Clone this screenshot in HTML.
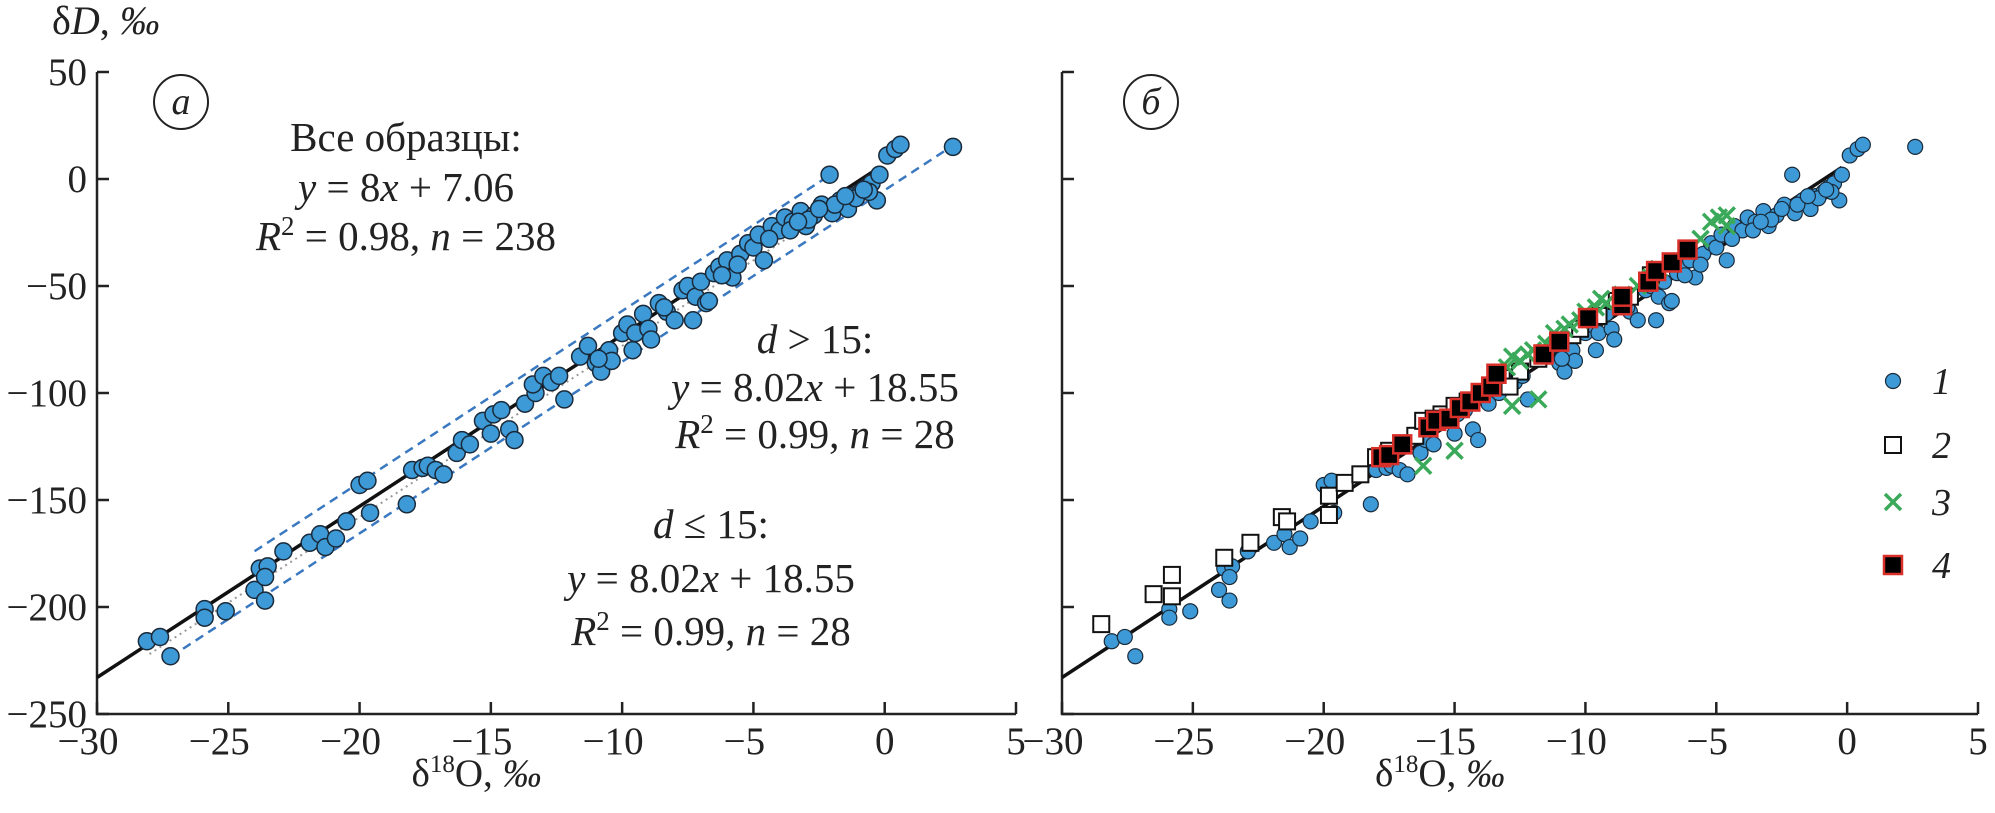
<!DOCTYPE html>
<html><head><meta charset="utf-8">
<style>
html,body{margin:0;padding:0;background:#fff;}
svg{display:block;font-family:"Liberation Serif","DejaVu Serif",serif;}
</style></head>
<body>
<svg id="chart" width="1995" height="813" viewBox="0 0 1995 813" xmlns="http://www.w3.org/2000/svg"></svg>
<script>
const xTicks=[-30,-25,-20,-15,-10,-5,0,5];
const yTicks=[50,0,-50,-100,-150,-200,-250];
const allX=[-28.1,-27.6,-27.2,-25.9,-25.9,-25.1,-24.0,-23.8,-23.5,-23.6,-23.6,-22.9,-21.9,-21.5,-21.3,-20.9,-20.5,-20.0,-19.7,-19.6,-18.2,-18.0,-17.6,-17.4,-17.1,-16.8,-16.3,-16.1,-15.8,-15.3,-14.9,-14.6,-14.3,-14.1,-13.7,-13.3,-13.4,-13.0,-12.7,-12.2,-11.6,-11.3,-11.0,-10.8,-10.5,-10.4,-10.0,-9.8,-9.5,-9.2,-9.0,-8.9,-8.6,-8.3,-8.0,-7.7,-7.5,-7.2,-7.0,-6.8,-6.5,-6.3,-6.0,-5.8,-5.5,-5.2,-5.0,-4.8,-4.6,-4.3,-4.0,-3.8,-3.5,-3.2,-3.0,-2.7,-2.4,-2.1,-2.0,-1.7,-1.4,-1.2,-0.9,-0.7,-0.5,-0.3,-0.2,0.1,0.4,0.6,2.6,-7.3,-6.7,-9.6,-8.4,-6.2,-5.6,-3.6,-2.9,-1.9,-1.1,-0.6,-4.4,-3.3,-2.5,-1.5,-0.8,-12.4,-10.9,-15.0];
const allY=[-216,-214,-223,-201,-205,-202,-192,-182,-181,-197,-186,-174,-170,-166,-172,-168,-160,-143,-141,-156,-152,-136,-135,-134,-136,-138,-128,-122,-124,-113,-110,-108,-117,-122,-105,-100,-96,-92,-95,-103,-83,-78,-86,-90,-80,-85,-72,-68,-72,-63,-70,-75,-58,-62,-66,-52,-50,-55,-48,-58,-44,-41,-38,-46,-35,-30,-32,-26,-38,-22,-24,-18,-20,-15,-22,-17,-12,2,-16,-10,-14,-8,-6,-4,-2,-10,2,11,14,16,15,-66,-57,-80,-60,-45,-40,-24,-19,-12,-9,-6,-28,-20,-14,-8,-5,-92,-84,-119];
const s2X=[-28.5,-26.5,-25.8,-25.8,-23.8,-22.8,-21.6,-21.4,-19.8,-19.8,-19.2,-18.6,-18.0,-17.5,-16.5,-16.2,-15.5,-15.0,-14.5,-13.2,-12.5,-11.8,-10.5,-10.2,-9.5,-8.8,-8.3,-7.5,-15.8,-12.9];
const s2Y=[-208,-194,-195,-185,-177,-170,-158,-160,-148,-157,-142,-138,-130,-127,-120,-113,-110,-106,-104,-93,-90,-84,-73,-70,-64,-57,-55,-45,-112,-97];
const s3X=[-16.2,-15.0,-12.8,-11.8,-13.0,-12.5,-12.8,-12.0,-11.5,-11.2,-10.8,-10.2,-10.0,-9.6,-9.4,-9.2,-8.6,-8.0,-7.5,-7.2,-5.2,-4.9,-4.6,-4.6,-5.6,-12.2,-10.6];
const s3Y=[-134,-127,-106,-103,-88,-85,-83,-80,-77,-72,-70,-66,-62,-60,-56,-58,-54,-50,-46,-42,-20,-18,-17,-22,-28,-82,-68];
const s4X=[-17.8,-17.5,-17.0,-16.0,-15.7,-15.2,-14.8,-14.4,-14.0,-13.6,-13.4,-11.6,-11.0,-9.9,-8.6,-8.6,-7.6,-7.3,-6.7,-6.1];
const s4Y=[-130,-129,-124,-116,-113,-112,-107,-104,-100,-97,-91,-82,-76,-65,-59,-55,-48,-43,-39,-33];

const NS="http://www.w3.org/2000/svg";
const svg=document.getElementById('chart');
function mk(tag,attrs,parent){const e=document.createElementNS(NS,tag);for(const k in attrs)e.setAttribute(k,attrs[k]);(parent||svg).appendChild(e);return e;}
const Y0=72,Y1=714;
function yS(v){return Y0+(50-v)*(Y1-Y0)/300;}
function makeX(x0,x1){return v=>x0+(v+30)*(x1-x0)/35;}
const panels=[{x0:97,x1:1016,name:'panel-a'},{x0:1062,x1:1978,name:'panel-b'}];

panels.forEach((p,pi)=>{
  const g=mk('g',{});
  
  
  const xS=makeX(p.x0,p.x1);
  p.xS=xS;
  const ax=mk('path',{d:`M${p.x0} ${Y0}V${Y1}H${p.x1}`,fill:'none',stroke:'#222','stroke-width':2.5},g);
  
  
  yTicks.forEach(t=>{
    const tk=mk('line',{x1:p.x0,x2:p.x0+12,y1:yS(t),y2:yS(t),stroke:'#222','stroke-width':2.5},g);
    
    
    if(pi===0){
      const tl=mk('text',{x:p.x0-10,y:yS(t)+13,'text-anchor':'end','font-size':39,fill:'#222'},g);
      tl.textContent=(t<0?'\u2212'+(-t):t);
      
      
    }
  });
  xTicks.forEach(t=>{
    const tk=mk('line',{x1:xS(t),x2:xS(t),y1:Y1,y2:Y1-12,stroke:'#222','stroke-width':2.5},g);
    
    
    const tl=mk('text',{x:xS(t)-(t<0?9:0),y:Y1+40,'text-anchor':'middle','font-size':39,fill:'#222'},g);
    tl.textContent=(t<0?'\u2212'+(-t):t);
    
    
  });
  const xt=mk('text',{x:(p.x0+p.x1)/2-80,y:Y1+72,'text-anchor':'middle','font-size':39,fill:'#222'},g);
  xt.innerHTML='δ<tspan dy="-14" font-size="25">18</tspan><tspan dy="14">O, </tspan><tspan font-style="italic">‰</tspan>';
  
  
  const circ=mk('circle',{cx:xS(pi===0?-26.8:-26.6),cy:102,r:27,fill:'none',stroke:'#222','stroke-width':2},g);
  
  
  const pl=mk('text',{x:xS(pi===0?-26.8:-26.6),y:114,'text-anchor':'middle','font-size':38,'font-style':'italic',fill:'#222'},g);
  pl.textContent=pi===0?'а':'б';
  
  
  const rl=mk('line',{x1:xS(-30),y1:yS(-30*8+7.06),x2:xS(-0.2),y2:yS(-0.2*8+7.06),stroke:'#111','stroke-width':3.5},g);
  
  
});

(function(){
  const xS=panels[0].xS;
  const dl=mk('line',{x1:xS(-28),y1:yS(-28*8+2),x2:xS(0),y2:yS(2),stroke:'#999','stroke-width':2,'stroke-dasharray':'2 4'});
  
  
  const up=mk('line',{x1:xS(-24),y1:yS(-24*8.02+18.55),x2:xS(-2),y2:yS(-2*8.02+18.55),stroke:'#3a78c0','stroke-width':2.5,'stroke-dasharray':'9 6'});
  
  
  const lo=mk('line',{x1:xS(-27.2),y1:yS(-27.2*8.02-5.2),x2:xS(2.6),y2:yS(2.6*8.02-5.2),stroke:'#3a78c0','stroke-width':2.5,'stroke-dasharray':'9 6'});
  
  
  allX.forEach((v,i)=>{
    const c=mk('circle',{cx:xS(v),cy:yS(allY[i]),r:8.5,fill:'#3d9ad6',stroke:'#1a2a3a','stroke-width':1.5});
    
    
  });
})();

(function(){
  const xS=panels[1].xS;
  allX.forEach((v,i)=>{
    const c=mk('circle',{cx:xS(v),cy:yS(allY[i]),r:7.5,fill:'#3d9ad6',stroke:'#1a2a3a','stroke-width':1.2});
    
    
  });
  s2X.forEach((v,i)=>{
    const r=mk('rect',{x:xS(v)-8,y:yS(s2Y[i])-8,width:16,height:16,fill:'#fff',stroke:'#111','stroke-width':2});
    
    
  });
  s3X.forEach((v,i)=>{
    const cx=xS(v),cy=yS(s3Y[i]);
    const x=mk('path',{d:`M${cx-8} ${cy-8}L${cx+8} ${cy+8}M${cx+8} ${cy-8}L${cx-8} ${cy+8}`,stroke:'#3aaa5a','stroke-width':3.5});
    
    
  });
  s4X.forEach((v,i)=>{
    const r=mk('rect',{x:xS(v)-9,y:yS(s4Y[i])-9,width:18,height:18,fill:'#000',stroke:'#d9302a','stroke-width':2.5});
    
    
  });
})();
</script>
<svg style="position:absolute;left:0;top:0" width="1995" height="813">
  <text x="52" y="34" font-size="40" font-family="Liberation Serif, serif" fill="#222">δ<tspan font-style="italic">D</tspan>, <tspan font-style="italic">‰</tspan></text>
  <g font-family="Liberation Serif, serif" font-size="41" fill="#222" text-anchor="middle">
    <text x="406" y="151">Все образцы:</text>
    <text x="406" y="201"><tspan font-style="italic">y</tspan> = 8<tspan font-style="italic">x</tspan> + 7.06</text>
    <text x="406" y="250"><tspan font-style="italic">R</tspan><tspan dy="-15" font-size="27">2</tspan><tspan dy="15"> = 0.98, </tspan><tspan font-style="italic">n</tspan> = 238</text>
  </g>
  <g font-family="Liberation Serif, serif" font-size="41" fill="#222" text-anchor="middle">
    <text x="815" y="353"><tspan font-style="italic">d</tspan> &gt; 15:</text>
    <text x="815" y="401"><tspan font-style="italic">y</tspan> = 8.02<tspan font-style="italic">x</tspan> + 18.55</text>
    <text x="815" y="448"><tspan font-style="italic">R</tspan><tspan dy="-15" font-size="27">2</tspan><tspan dy="15"> = 0.99, </tspan><tspan font-style="italic">n</tspan> = 28</text>
  </g>
  <g font-family="Liberation Serif, serif" font-size="41" fill="#222" text-anchor="middle">
    <text x="711" y="538"><tspan font-style="italic">d</tspan> ≤ 15:</text>
    <text x="711" y="592"><tspan font-style="italic">y</tspan> = 8.02<tspan font-style="italic">x</tspan> + 18.55</text>
    <text x="711" y="645"><tspan font-style="italic">R</tspan><tspan dy="-15" font-size="27">2</tspan><tspan dy="15"> = 0.99, </tspan><tspan font-style="italic">n</tspan> = 28</text>
  </g>
  <g font-family="Liberation Serif, serif" font-size="38" font-style="italic" fill="#222">
    <g><circle cx="1893" cy="381" r="7.5" fill="#3d9ad6" stroke="#1a2a3a" stroke-width="1.2"/><text x="1932" y="394">1</text></g>
    <g><rect x="1885" y="437" width="16" height="16" fill="#fff" stroke="#111" stroke-width="2"/><text x="1932" y="458">2</text></g>
    <g><path d="M1885 494L1901 510M1901 494L1885 510" stroke="#3aaa5a" stroke-width="3.5"/><text x="1932" y="515">3</text></g>
    <g><rect x="1884" y="556" width="18" height="18" fill="#000" stroke="#d9302a" stroke-width="2.5"/><text x="1932" y="578">4</text></g>
  </g>
</svg>
</body></html>
